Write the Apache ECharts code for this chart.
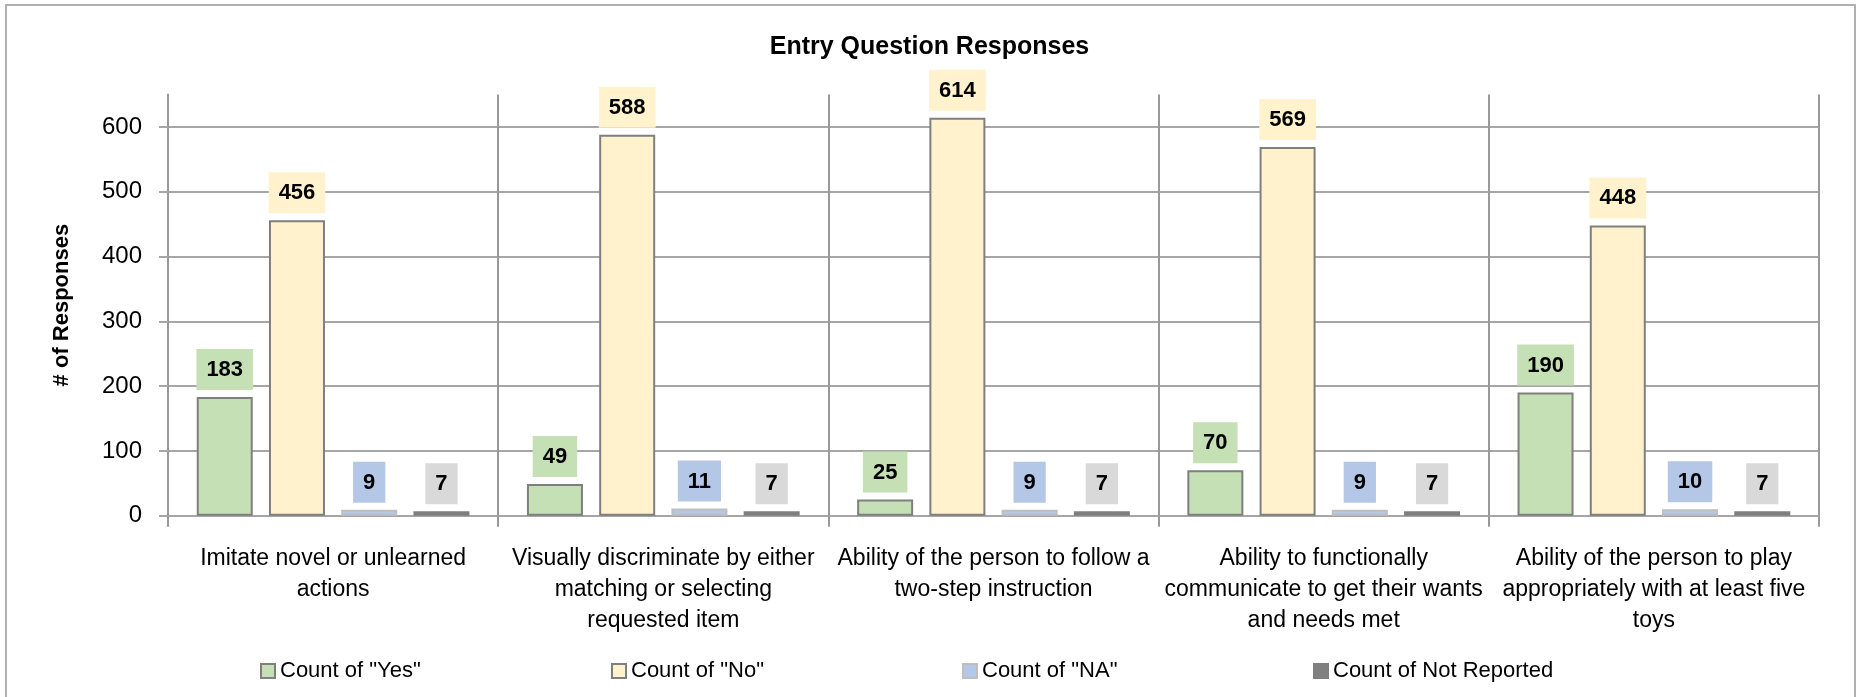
<!DOCTYPE html>
<html>
<head>
<meta charset="utf-8">
<title>Entry Question Responses</title>
<script src="https://cdn.jsdelivr.net/npm/echarts@6/dist/echarts.min.js"></script>
<style>
    html, body { margin: 0; padding: 0; background: #fff; }
    #chart { width: 1859px; height: 697px; }
</style>
</head>
<body>
<div id="chart"></div>
<script>
    // categories (wrapped the way the original chart wraps them)
    var categories = [
        'Imitate novel or unlearned\nactions',
        'Visually discriminate by either\nmatching or selecting\nrequested item',
        'Ability of the person to follow a\ntwo-step instruction',
        'Ability to functionally\ncommunicate to get their wants\nand needs met',
        'Ability of the person to play\nappropriately with at least five\ntoys'
    ];
    var yesCounts = [183, 49, 25, 70, 190];
    var noCounts = [456, 588, 614, 569, 448];
    var naCounts = [9, 11, 9, 9, 10];
    var notReportedCounts = [7, 7, 7, 7, 7];
    var seriesNames = ['Count of "Yes"', 'Count of "No"', 'Count of "NA"', 'Count of Not Reported'];

    var font = "'Liberation Sans', Arial, sans-serif";
    var gridColor = '#a6a6a6';

    function barSeries(name, data, fill, border, labelBg) {
        return {
            name: name,
            type: 'bar',
            data: data,
            barWidth: 56,
            barGap: '29%',
            itemStyle: { color: fill, borderColor: border, borderWidth: 2 },
            label: {
                show: true,
                position: 'top',
                distance: 7,
                fontFamily: font,
                fontSize: 22,
                fontWeight: 'bold',
                color: '#000',
                backgroundColor: labelBg,
                padding: [10, 10, 9, 10]
            }
        };
    }

    // one legend per entry so the entries sit on an even pitch like the original
    var legends = seriesNames.map(function (name, i) {
        return {
            left: 255 + i * 351,
            top: 655,
            itemWidth: 14,
            itemHeight: 14,
            icon: 'rect',
            textStyle: { fontFamily: font, fontSize: 22, color: '#000' },
            data: [name]
        };
    });

    var chart = echarts.init(document.getElementById('chart'));
    chart.setOption({
        animation: false,
        textStyle: { fontFamily: font },
        graphic: [{
            type: 'rect',
            shape: { x: 6, y: 5, width: 1849, height: 760 },
            style: { fill: 'none', stroke: '#b0b0b0', lineWidth: 2 },
            silent: true
        }],
        title: {
            text: 'Entry Question Responses',
            left: 'center',
            top: 30,
            textStyle: { fontFamily: font, fontSize: 25, fontWeight: 'bold', color: '#000' }
        },
        legend: legends,
        grid: { left: 168, right: 40, top: 94.5, bottom: 181.3, containLabel: false },
        xAxis: {
            type: 'category',
            data: categories,
            axisLine: { lineStyle: { color: gridColor, width: 2 } },
            axisTick: { show: true, length: 11, lineStyle: { color: '#999', width: 2 } },
            splitLine: { show: true, lineStyle: { color: '#999', width: 2 } },
            axisLabel: {
                interval: 0,
                margin: 27,
                fontFamily: font,
                fontSize: 23,
                lineHeight: 31,
                color: '#000'
            }
        },
        yAxis: {
            type: 'value',
            min: 0,
            max: 650,
            interval: 100,
            name: '# of Responses',
            nameLocation: 'middle',
            nameGap: 95,
            nameTextStyle: { fontFamily: font, fontSize: 22, fontWeight: 'bold', color: '#000' },
            axisLine: { show: true, lineStyle: { color: '#999', width: 2 } },
            axisTick: { show: true, length: 9, lineStyle: { color: gridColor, width: 2 } },
            axisLabel: { showMaxLabel: false, margin: 26, fontFamily: font, fontSize: 24, color: '#000' },
            splitLine: { showMaxLine: false, lineStyle: { color: gridColor, width: 2 } }
        },
        series: [
            barSeries(seriesNames[0], yesCounts, '#c5e0b4', '#7f7f7f', '#c5e0b4'),
            barSeries(seriesNames[1], noCounts, '#fff2cc', '#7f7f7f', '#fff2cc'),
            barSeries(seriesNames[2], naCounts, '#b4c7e7', '#bfbfbf', '#b4c7e7'),
            barSeries(seriesNames[3], notReportedCounts, '#808080', '#7f7f7f', '#d9d9d9')
        ]
    });
</script>
</body>
</html>
